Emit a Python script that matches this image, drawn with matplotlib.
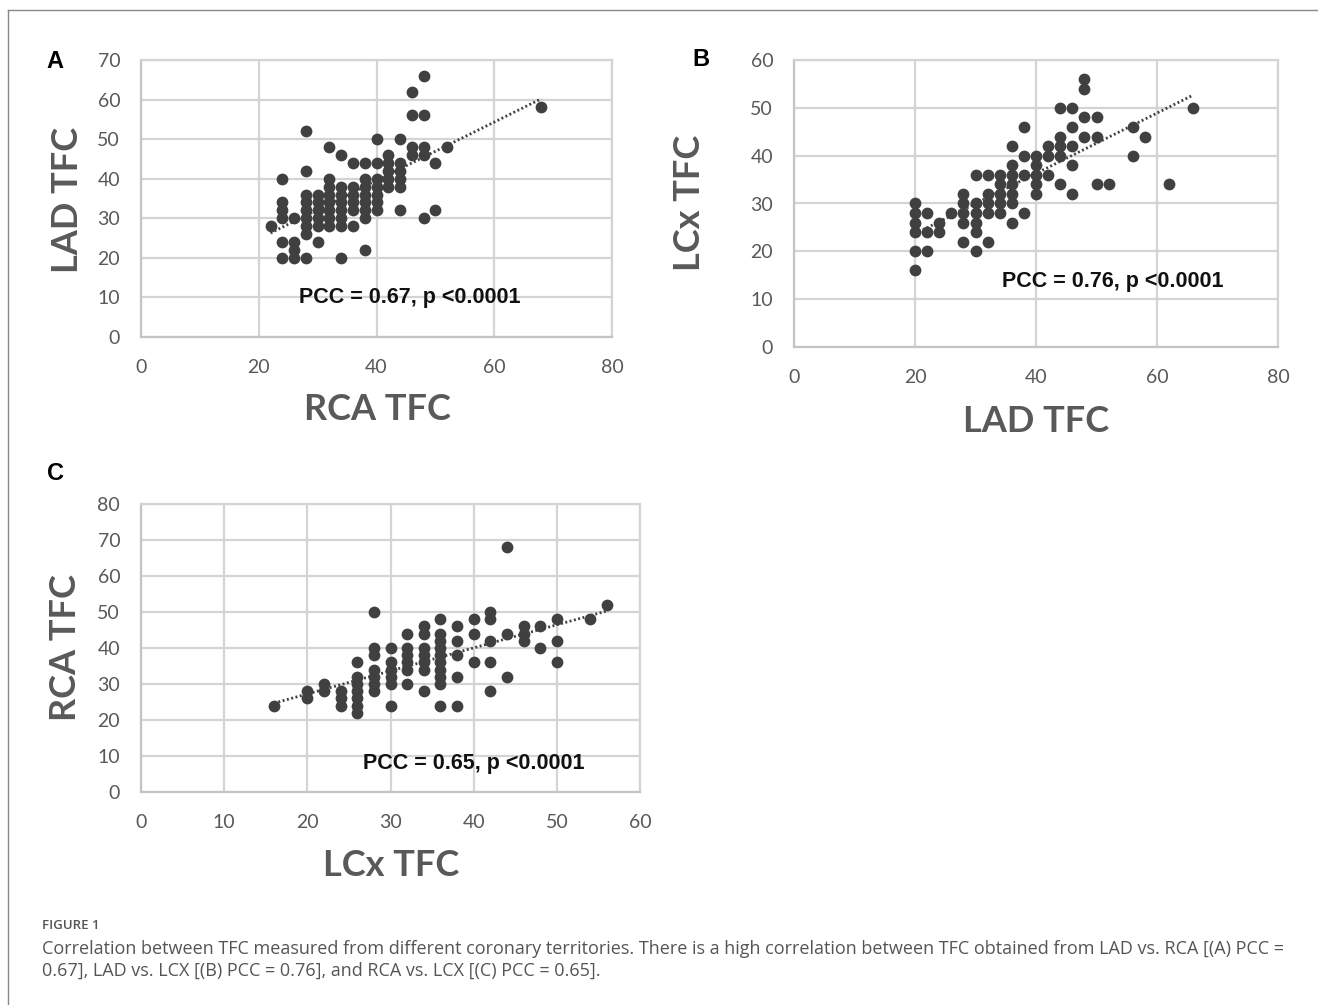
import numpy as np
import matplotlib.pyplot as plt

# ---- data ----
# Panel A: RCA TFC (x) vs LAD TFC (y)
rca_a = [22,
         24, 24, 24, 24, 24, 24,
         26, 26, 26, 26,
         28, 28, 28, 28, 28, 28, 28, 28, 28,
         30, 30, 30, 30, 30, 30,
         32, 32, 32, 32, 32, 32, 32, 32,
         34, 34, 34, 34, 34, 34, 34, 34,
         36, 36, 36, 36, 36, 36,
         38, 38, 38, 38, 38, 38, 38, 38,
         40, 40, 40, 40, 40, 40, 40,
         42, 42, 42, 42, 42,
         44, 44, 44, 44, 44, 44,
         46, 46, 46, 46,
         48, 48, 48, 48, 48,
         50, 50,
         52,
         68]
lad_a = [28,
         40, 34, 32, 30, 24, 20,
         30, 24, 22, 20,
         52, 42, 36, 34, 32, 30, 28, 26, 20,
         36, 34, 32, 30, 28, 24,
         48, 40, 38, 36, 34, 32, 30, 28,
         46, 38, 36, 34, 32, 30, 28, 20,
         44, 38, 36, 34, 32, 28,
         44, 40, 38, 36, 34, 32, 30, 22,
         50, 44, 40, 38, 36, 34, 32,
         46, 44, 42, 40, 38,
         50, 44, 42, 40, 38, 32,
         62, 56, 48, 46,
         66, 56, 48, 46, 30,
         44, 32,
         48,
         58]

# Panel B: LAD TFC (x) vs LCx TFC (y)
lad_b = [20, 20, 20, 20, 20, 20,
         22, 22, 22,
         24, 24,
         26,
         28, 28, 28, 28, 28,
         30, 30, 30, 30, 30, 30,
         32, 32, 32, 32, 32,
         34, 34, 34, 34, 34,
         36, 36, 36, 36, 36, 36, 36,
         38, 38, 38, 38,
         40, 40, 40, 40, 40,
         42, 42, 42,
         44, 44, 44, 44, 44,
         46, 46, 46, 46, 46,
         48, 48, 48, 48,
         50, 50, 50,
         52,
         56, 56,
         58,
         62,
         66]
lcx_b = [30, 28, 26, 24, 20, 16,
         28, 24, 20,
         26, 24,
         28,
         32, 30, 28, 26, 22,
         36, 30, 28, 26, 24, 20,
         36, 32, 30, 28, 22,
         36, 34, 32, 30, 28,
         42, 38, 36, 34, 32, 30, 26,
         46, 40, 36, 28,
         40, 38, 36, 34, 32,
         42, 40, 36,
         50, 44, 42, 40, 34,
         50, 46, 42, 38, 32,
         56, 54, 48, 44,
         48, 44, 34,
         34,
         46, 40,
         44,
         34,
         50]

# Panel C: LCx TFC (x) vs RCA TFC (y)
lcx_c = [16,
         20, 20,
         22, 22,
         24, 24, 24,
         26, 26, 26, 26, 26, 26, 26,
         28, 28, 28, 28, 28, 28, 28,
         30, 30, 30, 30, 30, 30,
         32, 32, 32, 32, 32, 32,
         34, 34, 34, 34, 34, 34, 34,
         36, 36, 36, 36, 36, 36, 36, 36, 36, 36,
         38, 38, 38, 38, 38,
         40, 40, 40,
         42, 42, 42, 42, 42,
         44, 44, 44,
         46, 46, 46,
         48, 48,
         50, 50, 50,
         54,
         56]
rca_c = [24,
         28, 26,
         30, 28,
         28, 26, 24,
         36, 32, 30, 28, 26, 24, 22,
         50, 40, 38, 34, 32, 30, 28,
         40, 36, 34, 32, 30, 24,
         44, 40, 38, 36, 34, 30,
         46, 44, 40, 38, 36, 34, 28,
         48, 44, 42, 40, 38, 36, 34, 32, 30, 24,
         46, 42, 38, 32, 24,
         48, 44, 36,
         50, 48, 42, 36, 28,
         68, 44, 32,
         46, 44, 42,
         46, 40,
         48, 42, 36,
         48,
         52]

pcc_labels = ["PCC = 0.67, p <0.0001", "PCC = 0.76, p <0.0001", "PCC = 0.65, p <0.0001"]

caption_head = "FIGURE 1"
caption_1 = ("Correlation between TFC measured from different coronary territories. "
             "There is a high correlation between TFC obtained from LAD vs. RCA [(A) PCC =")
caption_2 = "0.67], LAD vs. LCX [(B) PCC = 0.76], and RCA vs. LCX [(C) PCC = 0.65]."

W, H = 1318, 1005
fig = plt.figure(figsize=(W / 100, H / 100), dpi=100)


def fx(x):
    return x / W


def fy(y):
    return 1 - y / H


def box(x0, y0, x1, y1):
    return [fx(x0), fy(y1), fx(x1) - fx(x0), fy(y0) - fy(y1)]


grid_col = "#d4d4d4"
dot_col = "#404040"
tick_col = "#595959"


def panel(rect, xs, ys, xmax, xstep, ymax, ystep, pcc, pcc_xy):
    ax = fig.add_axes(rect)
    ax.scatter(xs, ys, s=72, color=dot_col, zorder=3, linewidths=0)
    # linear trendline through the points
    k, b = np.polyfit(xs, ys, 1)
    xl = np.array([min(xs), max(xs)])
    ax.plot(xl, k * xl + b, color=dot_col, lw=2, linestyle=(0, (0.7, 0.9)), zorder=2)
    ax.set_xlim(0, xmax)
    ax.set_ylim(0, ymax)
    ax.set_xticks(np.arange(0, xmax + 1, xstep))
    ax.set_yticks(np.arange(0, ymax + 1, ystep))
    ax.grid(True, color=grid_col, lw=1.6)
    ax.set_axisbelow(True)
    for s in ax.spines.values():
        s.set_color(grid_col)
        s.set_linewidth(1.6)
    ax.spines["left"].set_color("#c4c4c4")
    ax.spines["bottom"].set_color("#c4c4c4")
    ax.tick_params(length=0, labelsize=14, labelcolor=tick_col)
    ax.tick_params(axis="x", pad=16)
    ax.tick_params(axis="y", pad=15)
    for lab in ax.get_xticklabels() + ax.get_yticklabels():
        lab.set_family("Lato")
    ax.text(pcc_xy[0], pcc_xy[1], pcc, ha="center", va="center", fontsize=15.5,
            fontweight="bold", family="Liberation Sans", color="#111111", zorder=4)
    return ax


panel(box(141, 60, 612, 337), rca_a, lad_a, 80, 20, 70, 10, pcc_labels[0], (45.6, 9.9))
panel(box(794, 60, 1278, 347), lad_b, lcx_b, 80, 20, 60, 10, pcc_labels[1], (52.7, 13.6))
panel(box(141, 504, 640, 792), lcx_c, rca_c, 60, 10, 80, 10, pcc_labels[2], (40.0, 7.8))

lab_kw = dict(fontsize=26, fontweight="bold", family="Lato", color=tick_col,
              ha="center", va="center")
fig.text(fx(377), fy(410), "RCA TFC", **lab_kw)
fig.text(fx(68), fy(200), "LAD TFC", rotation=90, **lab_kw)
fig.text(fx(1036), fy(421), "LAD TFC", **lab_kw)
fig.text(fx(690), fy(203), "LCx TFC", rotation=90, **lab_kw)
fig.text(fx(391), fy(865), "LCx TFC", **lab_kw)
fig.text(fx(66), fy(648), "RCA TFC", rotation=90, **lab_kw)

let_kw = dict(fontsize=17, fontweight="bold", family="Liberation Sans", color="black",
              ha="center", va="center")
fig.text(fx(55), fy(61), "A", **let_kw)
fig.text(fx(701), fy(60), "B", **let_kw)
fig.text(fx(55), fy(474), "C", **let_kw)

# caption
fig.text(fx(42), fy(925), caption_head, fontsize=9.5, family="Open Sans", color="#555555",
         ha="left", va="center", fontweight="semibold")
fig.text(fx(42), fy(949), caption_1, fontsize=13, family="Open Sans", color="#555555",
         ha="left", va="center")
fig.text(fx(42), fy(971), caption_2, fontsize=13, family="Open Sans", color="#555555",
         ha="left", va="center")

# thin outer frame (left and top edges)
fig.add_artist(plt.Line2D([fx(8), fx(8)], [fy(10), 0], color="#888888", lw=1))
fig.add_artist(plt.Line2D([fx(8), 1], [fy(10), fy(10)], color="#888888", lw=1))

fig.savefig("out.png", dpi=100)
